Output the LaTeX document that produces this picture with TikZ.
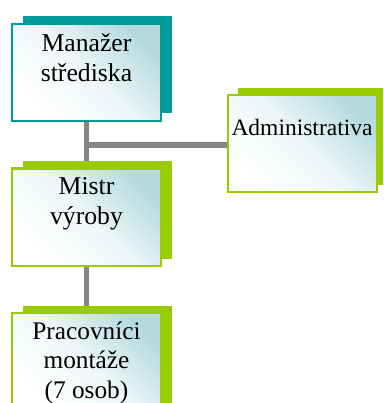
\documentclass[tikz,border=0pt]{standalone}
\usepackage{fontspec}
\setmainfont{Liberation Serif}
\usetikzlibrary{shadows,backgrounds}
\definecolor{tealdark}{HTML}{009A9A}
\definecolor{leafgreen}{HTML}{99CC00}
\definecolor{linkgray}{HTML}{858585}
\definecolor{boxtint}{HTML}{B4DADF}
\definecolor{boxmid}{HTML}{EEF7F8}
\tikzset{
  box/.style={rectangle, minimum width=149pt, minimum height=97pt,
    line width=2pt, inner sep=0pt, shading=axis, top color=boxtint,
    bottom color=white, middle color=boxmid, shading angle=-45},
  tealbox/.style={box, draw=tealdark,
    general shadow={shadow xshift=10.5pt, shadow yshift=8pt, fill=tealdark}},
  greenbox/.style={box, draw=leafgreen,
    general shadow={shadow xshift=10.5pt, shadow yshift=7pt, fill=leafgreen}},
  label text/.style={anchor=north, inner sep=0pt, align=center,
    font=\fontsize{25.7}{30}\selectfont},
  link/.style={draw=linkgray, line width=5.5pt}
}
\begin{document}
\begin{tikzpicture}[x=1pt, y=-1pt]
  \useasboundingbox (0,0) rectangle (383,403);
  \clip (0,0) rectangle (383,403);
  % boxes of the chart
  \node[tealbox]  (mgr)   at (86.5,72.5)  {};
  \node[greenbox] (admin) at (302,143.5)  {};
  \node[greenbox] (mistr) at (86.5,217)   {};
  \node[greenbox] (work)  at (86.5,361)   {};
  % connectors, kept behind the boxes
  \coordinate (joint) at (mgr.south |- 0,145);
  \begin{scope}[on background layer]
    \draw[link] (mgr.south) -- (mistr.north);
    \draw[link] (mistr.south) -- (work.north);
    \draw[link] ([xshift=-2.75pt]joint) -- (admin.west |- joint);
  \end{scope}
  % texts
  \node[label text] (tmgr)   at ([yshift=-10pt]mgr.north)   {Manažer\\střediska};
  \node[label text, font=\fontsize{23.5}{28}\selectfont]
                    (tadmin) at ([yshift=-25pt]admin.north) {Administrativa};
  \node[label text] (tmistr) at ([yshift=-10pt]mistr.north) {Mistr\\výroby};
  \node[label text, font=\fontsize{25.3}{29.5}\selectfont]
                    (twork)  at ([yshift=-10pt]work.north)  {Pracovníci\\montáže\\(7 osob)};
\end{tikzpicture}
\end{document}
